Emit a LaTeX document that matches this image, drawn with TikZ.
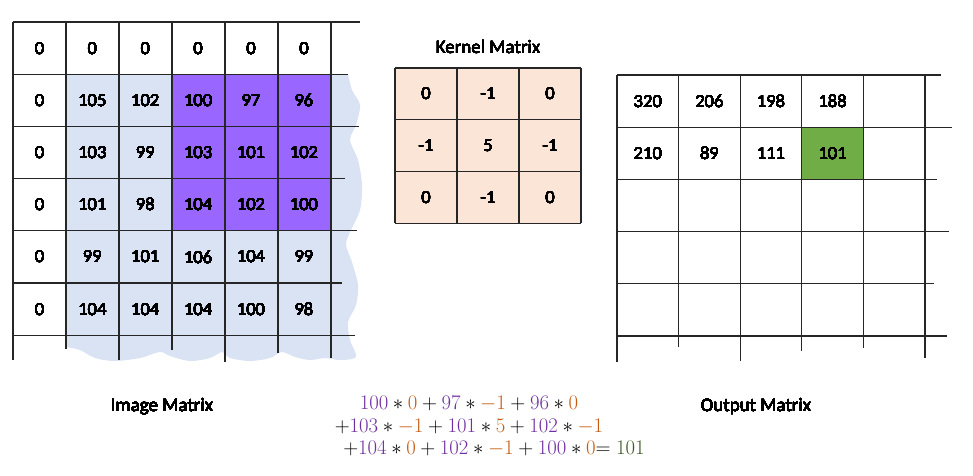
\documentclass[tikz,border=0pt]{standalone}
\usepackage[no-math]{fontspec}
\setmainfont{Carlito}
\usetikzlibrary{positioning}
\definecolor{imgblue}{RGB}{218,227,243}
\definecolor{imgpurple}{RGB}{153,102,255}
\definecolor{kerpeach}{RGB}{251,229,214}
\definecolor{outgreen}{RGB}{112,173,71}
\definecolor{eqpurple}{RGB}{112,48,160}
\definecolor{eqorange}{RGB}{197,90,17}
\definecolor{eqgreen}{RGB}{56,87,35}
\tikzset{
  gridline/.style={draw=black!85,line width=1.1pt},
  cellnum/.style={font=\fontsize{18.5}{20}\selectfont},
  titlefont/.style={font=\fontsize{19}{22}\selectfont},
  eqfont/.style={font=\fontsize{22.5}{26}\selectfont},
}
\newcommand{\vgl}[3]{\draw[gridline] (#1,#2) -- (#1,#3);}
\newcommand{\hgl}[3]{\draw[gridline] (#2,#1) -- (#3,#1);}
\newcommand{\imgrow}[2]{%
  \foreach \v [count=\c] in {#2}{%
    \node[cellnum] (img-#1-\c) at ({13+52.9*(\c-0.5)},{22+52.2*(#1-0.5)}) {\v};}}
\newcommand{\kerrow}[2]{%
  \foreach \v [count=\c] in {#2}{%
    \node[cellnum] (ker-#1-\c) at ({395+62*(\c-0.5)},{68+51.7*(#1-0.5)}) {\v};}}
\newcommand{\outrow}[2]{%
  \foreach \v [count=\c] in {#2}{%
    \node[cellnum] (out-#1-\c) at ({617+61.6*(\c-0.5)},{75+52.2*(#1-0.5)}) {\v};}}
\newcommand{\eqp}[1]{\textcolor{eqpurple}{#1}}
\newcommand{\eqo}[1]{\textcolor{eqorange}{#1}}

\begin{document}
\begin{tikzpicture}[x=1pt,y=-1pt]
        \useasboundingbox (0,0) rectangle (973,475);
        % image matrix
        \fill[imgblue] (66,347) -- (66,74) -- (348,74) -- plot[smooth] coordinates {
          (348,74) (352,90) (360,105) (356,125) (350,140) (358,160) (362,185)
          (360,210) (350,232) (346,245) (352,262) (358,285) (356,305) (348,322)
          (350,340) (356,357) (340,360) (325,358) (310,360) (295,357) (282,352)
          (270,358) (250,361) (230,358) (222,352) (210,358) (190,361) (170,356)
          (160,352) (140,358) (115,361) (95,358) (80,350) (66,347)} -- cycle;
        \fill[imgpurple] (172,74.2) rectangle (331,230.8);
        \foreach \x/\b in {13/360,66/349,119/360,172/350,225/362,278/353,331/358}
          \vgl{\x}{22}{\b}
        \foreach \y/\e in {22/360,74.2/348,126.4/359,178.6/345,230.8/357,283/342,335.2/355}
          \hgl{\y}{13}{\e}
        \imgrow{1}{0,0,0,0,0,0}
        \imgrow{2}{0,105,102,100,97,96}
        \imgrow{3}{0,103,99,103,101,102}
        \imgrow{4}{0,101,98,104,102,100}
        \imgrow{5}{0,99,101,106,104,99}
        \imgrow{6}{0,104,104,104,100,98}
        \node[titlefont] (img-title) at (162,407) {Image Matrix};
        % kernel matrix
        \fill[kerpeach] (395,68) rectangle (581,223.1);
        \foreach \x in {395,457,519,581}
          \vgl{\x}{68}{223.1}
        \foreach \y in {68,119.7,171.4,223.1}
          \hgl{\y}{395}{581}
        \kerrow{1}{0,-1,0}
        \kerrow{2}{-1,5,-1}
        \kerrow{3}{0,-1,0}
        \node[titlefont] (ker-title) at (488,47) {Kernel Matrix};
        % output matrix
        \fill[outgreen] (801.8,127.2) rectangle (863.4,179.4);
        \foreach \x/\b in {617/362,678.6/347,740.2/361,801.8/351,863.4/348,925/358}
          \vgl{\x}{75}{\b}
        \foreach \y/\e in {75/941,127.2/952,179.4/937,231.6/949,283.8/934,336/947}
          \hgl{\y}{617}{\e}
        \outrow{1}{320,206,198,188}
        \outrow{2}{210,89,111,101}
        \node[titlefont] (out-title) at (756,406) {Output Matrix};
        % worked sum
        \node[eqfont] (eq-1) at (469,404)
          {$\eqp{100}\ast\eqo{0}+\eqp{97}\ast\eqo{-1}+\eqp{96}\ast\eqo{0}$};
        \node[eqfont] (eq-2) at (469,427)
          {$+\eqp{103}\ast\eqo{-1}+\eqp{101}\ast\eqo{5}+\eqp{102}\ast\eqo{-1}$};
        \node[eqfont] (eq-3) at (494,449)
          {$+\eqp{104}\ast\eqo{0}+\eqp{102}\ast\eqo{-1}+\eqp{100}\ast\eqo{0}{=}\;\textcolor{eqgreen}{101}$};
      \end{tikzpicture}
\end{document}
